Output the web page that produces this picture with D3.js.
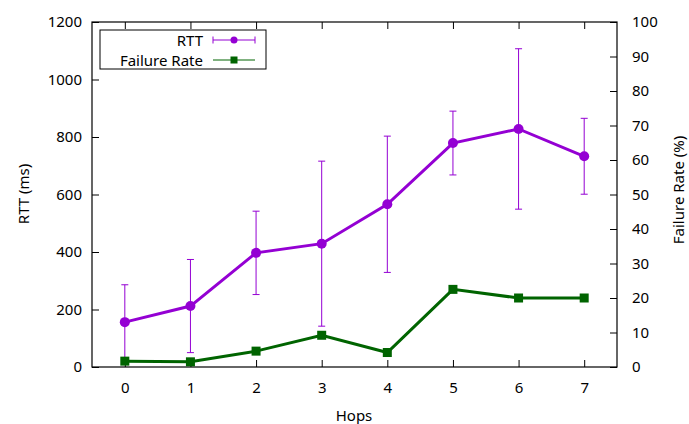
<!DOCTYPE html>
<html>
<head>
<meta charset="utf-8">
<script src="https://cdn.jsdelivr.net/npm/d3@7"></script>
<style>
body { margin: 0; background: #fff; }
text { font-family: "Noto Sans", sans-serif; font-size: 15px; fill: #000; }
</style>
</head>
<body>
<svg id="chart"></svg>
<script>
// data
var hops = [0, 1, 2, 3, 4, 5, 6, 7];
var rtt = [156, 212, 397, 429, 566, 779, 828, 733];
var rttErr = [130, 162, 145, 287, 237, 111, 279, 132];
var failRate = [1.7, 1.5, 4.6, 9.2, 4.2, 22.5, 20, 20];
var rttTicks = [0, 200, 400, 600, 800, 1000, 1200];
var failTicks = [0, 10, 20, 30, 40, 50, 60, 70, 80, 90, 100];

var purple = "#9400d3";
var green = "#006400";

var W = 689, H = 424;
var margin = {left: 92, right: 72, top: 22, bottom: 57};

var svg = d3.select("#chart").attr("width", W).attr("height", H);

var x = d3.scaleLinear().domain([-0.5, 7.5]).range([margin.left, W - margin.right]);
var y = d3.scaleLinear().domain([0, 1200]).range([H - margin.bottom, margin.top]);
var y2 = d3.scaleLinear().domain([0, 100]).range([H - margin.bottom, margin.top]);

var tickLen = 7;
var fmt = d3.format("d");

// axes: ticks drawn inward
var xAxis = d3.axisBottom(x).tickValues(hops).tickSize(-tickLen).tickPadding(15).tickFormat(fmt);
var xTop = d3.axisTop(x).tickValues(hops).tickSize(-tickLen).tickFormat("");
var yAxis = d3.axisLeft(y).tickValues(rttTicks).tickSize(-tickLen).tickPadding(10).tickFormat(fmt);
var y2Axis = d3.axisRight(y2).tickValues(failTicks).tickSize(-tickLen).tickPadding(15).tickFormat(fmt);

function styleAxis(g) {
    g.select(".domain").remove();
    g.attr("font-family", null).attr("font-size", null);
    g.selectAll("line").attr("stroke", "#000");
    g.selectAll("text").attr("fill", "#000");
}

svg.append("g").attr("transform", "translate(0," + (H - margin.bottom) + ")").call(xAxis).call(styleAxis);
svg.append("g").attr("transform", "translate(0," + margin.top + ")").call(xTop).call(styleAxis);
svg.append("g").attr("transform", "translate(" + margin.left + ",0)").call(yAxis).call(styleAxis);
svg.append("g").attr("transform", "translate(" + (W - margin.right) + ",0)").call(y2Axis).call(styleAxis);

// border
svg.append("rect")
    .attr("x", margin.left).attr("y", margin.top)
    .attr("width", W - margin.left - margin.right)
    .attr("height", H - margin.top - margin.bottom)
    .attr("fill", "none").attr("stroke", "#000").attr("stroke-width", 1.2);

// axis titles
svg.append("text").attr("x", 354).attr("y", 421).attr("text-anchor", "middle").text("Hops");
svg.append("text").attr("transform", "translate(28.5,194) rotate(-90)")
    .attr("text-anchor", "middle").text("RTT (ms)");
svg.append("text").attr("transform", "translate(684,190) rotate(-90)")
    .attr("text-anchor", "middle").text("Failure Rate (%)");

// error bars
var cap = 3.5;
var eb = svg.append("g").attr("stroke", purple).attr("stroke-width", 1);
hops.forEach(function(h, i) {
    var lo = y(Math.max(0, rtt[i] - rttErr[i])), hi = y(rtt[i] + rttErr[i]);
    eb.append("line").attr("x1", x(h)).attr("x2", x(h)).attr("y1", lo).attr("y2", hi);
    eb.append("line").attr("x1", x(h) - cap).attr("x2", x(h) + cap).attr("y1", lo).attr("y2", lo);
    eb.append("line").attr("x1", x(h) - cap).attr("x2", x(h) + cap).attr("y1", hi).attr("y2", hi);
});

// RTT line
var rttLine = d3.line().x(function(d, i) { return x(hops[i]); }).y(function(d) { return y(d); });
svg.append("path").datum(rtt).attr("d", rttLine)
    .attr("fill", "none").attr("stroke", purple).attr("stroke-width", 3);
svg.selectAll(".rttpt").data(rtt).enter().append("circle")
    .attr("cx", function(d, i) { return x(hops[i]); })
    .attr("cy", function(d) { return y(d); })
    .attr("r", 5).attr("fill", purple);

// failure rate line
var failLine = d3.line().x(function(d, i) { return x(hops[i]); }).y(function(d) { return y2(d); });
svg.append("path").datum(failRate).attr("d", failLine)
    .attr("fill", "none").attr("stroke", green).attr("stroke-width", 3);
svg.selectAll(".failpt").data(failRate).enter().append("rect")
    .attr("x", function(d, i) { return x(hops[i]) - 4.5; })
    .attr("y", function(d) { return y2(d) - 4.5; })
    .attr("width", 9).attr("height", 9).attr("fill", green);

// legend
var lg = svg.append("g");
lg.append("rect").attr("x", 100).attr("y", 30).attr("width", 166).attr("height", 39)
    .attr("fill", "#fff").attr("stroke", "#000").attr("stroke-width", 1);
lg.append("text").attr("x", 203).attr("y", 45.5).attr("text-anchor", "end").text("RTT");
lg.append("text").attr("x", 203).attr("y", 65.5).attr("text-anchor", "end").text("Failure Rate");
var l1 = lg.append("g").attr("stroke", purple).attr("stroke-width", 1);
l1.append("line").attr("x1", 213).attr("x2", 255).attr("y1", 40).attr("y2", 40);
l1.append("line").attr("x1", 213).attr("x2", 213).attr("y1", 36.5).attr("y2", 43.5);
l1.append("line").attr("x1", 255).attr("x2", 255).attr("y1", 36.5).attr("y2", 43.5);
lg.append("circle").attr("cx", 234).attr("cy", 40).attr("r", 3.5).attr("fill", purple);
lg.append("line").attr("x1", 213).attr("x2", 255).attr("y1", 60).attr("y2", 60)
    .attr("stroke", green).attr("stroke-width", 1);
lg.append("rect").attr("x", 230.5).attr("y", 56.5).attr("width", 7).attr("height", 7).attr("fill", green);
</script>
</body>
</html>
